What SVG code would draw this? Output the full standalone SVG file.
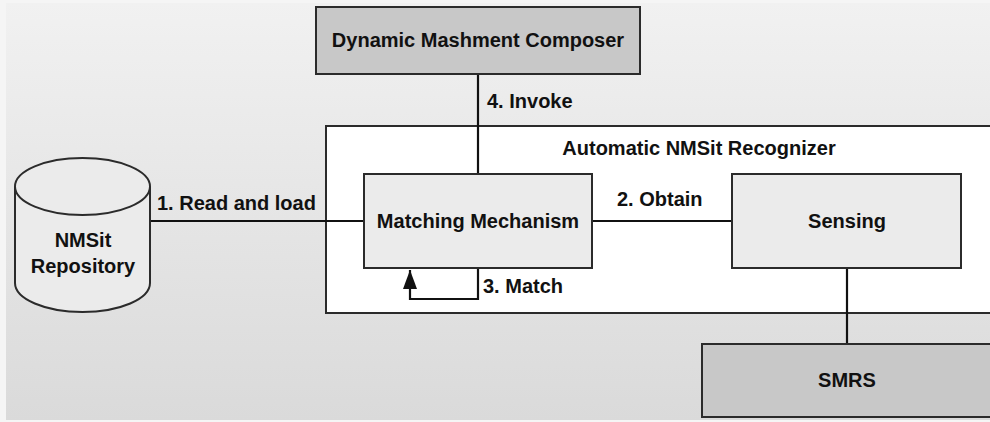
<svg xmlns="http://www.w3.org/2000/svg" width="990" height="422" viewBox="0 0 990 422">
  <defs>
    <linearGradient id="bg" x1="0" y1="0" x2="0" y2="1">
      <stop offset="0" stop-color="#f1f1f1"/>
      <stop offset="1" stop-color="#dadada"/>
    </linearGradient>
    <marker id="arrow" markerUnits="userSpaceOnUse" markerWidth="20" markerHeight="14" viewBox="0 0 20 14" refX="19" refY="7" orient="auto">
      <path d="M19,7 L0,0 L0,14 Z" fill="#111"/>
    </marker>
    <style>
      .box { stroke: #2b2b2b; stroke-width: 2; }
      .dark { fill: #c8c8c8; }
      .light { fill: #ebebeb; }
      .wire { fill: none; stroke: #111; stroke-width: 2.2; }
      text { font-family: "Liberation Sans", Arial, sans-serif; font-weight: bold; font-size: 20px; fill: #111; }
      .mid { text-anchor: middle; }
    </style>
  </defs>

  <!-- backdrop -->
  <rect x="0" y="0" width="990" height="422" fill="#f5f5f5"/>
  <rect x="6" y="3" width="984" height="417" fill="url(#bg)"/>

  <!-- recognizer container -->
  <g id="recognizer">
    <rect class="box" x="326" y="126" width="670" height="187" fill="#ffffff"/>
    <text class="mid" x="699" y="155">Automatic NMSit Recognizer</text>
  </g>

  <!-- connectors -->
  <g id="connectors">
    <line class="wire" x1="150" y1="221" x2="364" y2="221"/>
    <line class="wire" x1="592" y1="221" x2="732" y2="221"/>
    <line class="wire" x1="478" y1="74" x2="478" y2="174"/>
    <line class="wire" x1="847" y1="268" x2="847" y2="344"/>
    <path class="wire" d="M478,268 V299 H410 V270" marker-end="url(#arrow)"/>
    <text x="157" y="210">1. Read and load</text>
    <text x="617" y="206">2. Obtain</text>
    <text x="483" y="293">3. Match</text>
    <text x="487" y="108">4. Invoke</text>
  </g>

  <g id="composer">
    <rect class="box dark" x="316" y="7" width="324" height="67"/>
    <text class="mid" x="478" y="47">Dynamic Mashment Composer</text>
  </g>

  <g id="repository">
    <path class="box" fill="#ebebeb" d="M15,186.5 V283 A67.5,29 0 0 0 150,283 V186.5"/>
    <ellipse class="box" cx="82.5" cy="186.5" rx="67.5" ry="28.5" fill="#ebebeb"/>
    <text class="mid" x="83" y="247">NMSit</text>
    <text class="mid" x="83" y="273">Repository</text>
  </g>

  <g id="matching">
    <rect class="box light" x="364" y="174" width="228" height="94"/>
    <text class="mid" x="478" y="228">Matching Mechanism</text>
  </g>

  <g id="sensing">
    <rect class="box light" x="732" y="174" width="229" height="94"/>
    <text class="mid" x="847" y="228">Sensing</text>
  </g>

  <g id="smrs">
    <rect class="box dark" x="702" y="344" width="294" height="73"/>
    <text class="mid" x="847" y="387">SMRS</text>
  </g>
</svg>
